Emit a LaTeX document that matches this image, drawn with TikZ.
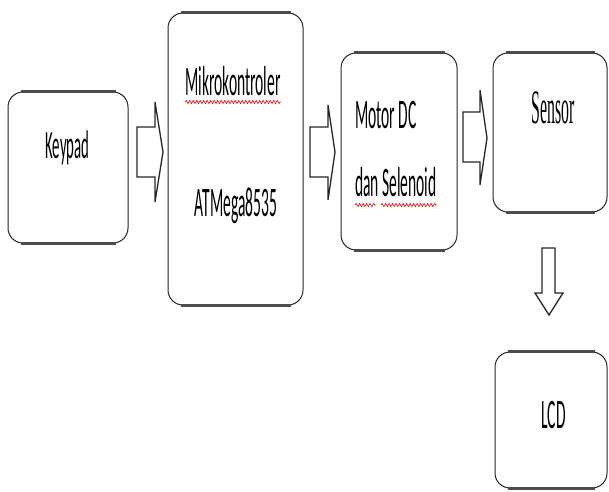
\documentclass[tikz,border=0pt]{standalone}
\usepackage{fontspec}
\usetikzlibrary{decorations.pathmorphing}
\newfontfamily\cfont[FakeStretch=0.37]{Carlito}
\newfontfamily\sfont[FakeStretch=0.33]{Liberation Serif}
\tikzset{
 blk/.style={draw=black!85, line width=1pt, rounded corners=15pt, fill=white, inner sep=0pt},
 edgeline/.style={line width=2.6pt, draw=black!70},
 barrow/.style={draw=black!85, line width=1.3pt, line join=miter, fill=white},
 lbl/.style={anchor=base, inner sep=0pt},
 lbll/.style={anchor=base west, inner sep=0pt},
 squig/.style={draw=red, line width=0.6pt, decorate, decoration={snake, amplitude=1.6pt, segment length=3.5pt}}
}
\newcommand{\thickedges}[1]{%
  \draw[edgeline] ([xshift=13pt]#1.north west) -- ([xshift=-13pt]#1.north east);
  \draw[edgeline] ([xshift=13pt]#1.south west) -- ([xshift=-13pt]#1.south east);}
\begin{document}
\begin{tikzpicture}[x=1pt,y=-1pt]
\useasboundingbox (0,0) rectangle (609,491);
% boxes
\node[blk, minimum width=120pt, minimum height=151pt] (keypad) at (68,167.5) {};
\node[blk, minimum width=135pt, minimum height=292pt] (mikro) at (235.5,159) {};
\node[blk, minimum width=116pt, minimum height=197pt] (motor) at (399,151.5) {};
\node[blk, minimum width=114pt, minimum height=159pt] (sensor) at (550,132.5) {};
\node[blk, minimum width=112pt, minimum height=136pt] (lcd) at (551,420) {};
\thickedges{keypad}
\thickedges{mikro}
\thickedges{motor}
\thickedges{sensor}
\thickedges{lcd}
% texts
\node[lbl] (tk) at (67.5,158) {\cfont\fontsize{40}{40}\selectfont Keypad};
\node[lbl] (mk) at (233,95) {\cfont\fontsize{42}{42}\selectfont Mikrokontroler};
\node[lbl] (at) at (236,216) {\cfont\fontsize{42}{42}\selectfont ATMega8535};
\node[lbll] (md) at (355,128) {\cfont\fontsize{42}{42}\selectfont Motor DC};
\node[lbll] (ds) at (355,196) {\cfont\fontsize{42}{42}\selectfont dan Selenoid};
\node[lbl] (sn) at (553,123) {\sfont\fontsize{48}{48}\selectfont Sensor};
\node[lbl] (lc) at (553.5,428) {\cfont\fontsize{42}{42}\selectfont LCD};
% spell-check squiggles
\draw[squig] ([yshift=-7pt]mk.base west) -- ([yshift=-7pt]mk.base east);
\draw[squig] ([yshift=-9pt]ds.base west) -- ([xshift=21pt,yshift=-9pt]ds.base west);
\draw[squig] ([xshift=26pt,yshift=-9pt]ds.base west) -- ([yshift=-9pt]ds.base east);
% block arrows
\draw[barrow] (137,127) -- (155,127) -- (155,102) -- (163,152) -- (155,202) -- (155,177) -- (137,177) -- cycle;
\draw[barrow] (310,127) -- (328,127) -- (328,105) -- (335,152) -- (328,200) -- (328,177) -- (310,177) -- cycle;
\draw[barrow] (463,112) -- (480,112) -- (480,90) -- (487,138) -- (480,185) -- (480,162) -- (463,162) -- cycle;
\draw[barrow] (542,248) -- (555,248) -- (555,293) -- (563,293) -- (549,315) -- (535,293) -- (542,293) -- cycle;
\end{tikzpicture}
\end{document}
